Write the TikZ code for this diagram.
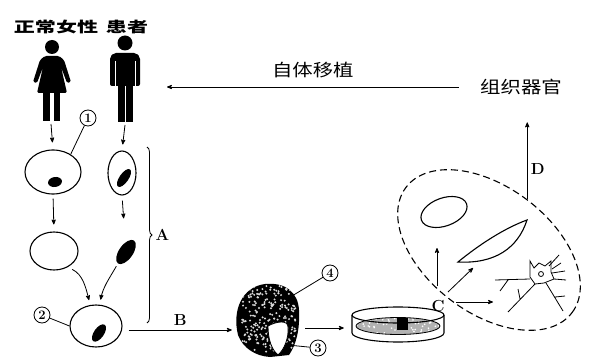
\documentclass[tikz,border=0pt]{standalone}
\usepackage{fontspec}
\newfontfamily\cjkwide[FakeStretch=1.45]{Noto Sans CJK SC}
\newfontfamily\cjk[FakeStretch=1.2]{Noto Sans CJK SC}
\usetikzlibrary{shapes,arrows,decorations.pathreplacing,positioning}

\begin{document}
\begin{tikzpicture}[x=1pt,y=-1pt,>=stealth']
          \useasboundingbox (0,0) rectangle (591,358);
          %% styles
          \tikzstyle{cell}=[draw,ellipse,line width=1.1pt,inner sep=0pt]
          \tikzstyle{nucleus}=[fill=black,ellipse,inner sep=0pt]
          \tikzstyle{num}=[draw,circle,thick,inner sep=0pt,minimum size=16pt,font=\fontsize{13}{13}\selectfont\bfseries]
          \tikzstyle{lab}=[font=\fontsize{16}{16}\selectfont\bfseries]
          \tikzstyle{arr}=[->,thick]

          % donneurs
          \node[font=\cjkwide\bfseries\fontsize{14.5}{14.5}\selectfont] (lblwoman) at (56,27) {正常女性};
          \node[font=\cjkwide\bfseries\fontsize{14.5}{14.5}\selectfont] (lblpatient) at (127,27) {患者};
          \fill (52,47) circle (7pt);
          \fill[rounded corners=1.5pt] (45,56) -- (59,56) -- (64,60) -- (71,82) -- (67,83) -- (61,67)
          -- (67,93) -- (37,93) -- (43,67) -- (37,83) -- (33,82) -- (40,60) -- cycle;
          \fill (43,92) rectangle (49.5,121);
          \fill (53.5,92) rectangle (60,121);
          \fill (125,43) circle (7.5pt);
          \fill[rounded corners=2pt] (110,86) -- (110,57) -- (114,53) -- (136,53) -- (140,57) -- (140,86) -- cycle;
          \draw[white,line width=1pt] (115,61) -- (115,87) (135,61) -- (135,87);
          \fill (117.5,85) rectangle (124.5,122);
          \fill (125.5,85) rectangle (132.5,122);
          \coordinate (womanfeet) at (51,124);
          \coordinate (manfeet) at (125,125);

          % cellules
          \node[cell,minimum width=56pt,minimum height=44pt] (egg) at (53,172) {};
          \node[nucleus,minimum width=14pt,minimum height=10pt,rotate=10] (eggnuc) at (55,182) {};
          \node[cell,minimum width=28pt,minimum height=44pt] (somatic) at (122,173) {};
          \node[nucleus,minimum width=9pt,minimum height=21pt,rotate=-35] (somnuc) at (124,178) {};
          \node[cell,minimum width=48pt,minimum height=38pt] (enuc) at (54,251) {};
          \node[nucleus,minimum width=14pt,minimum height=28pt,rotate=-35] (freenuc) at (126,252) {};
          \node[cell,minimum width=52pt,minimum height=42pt] (recon) at (96,326) {};
          \node[nucleus,minimum width=10pt,minimum height=20pt,rotate=-35] (reconnuc) at (99,333) {};

          \node[num] (n1) at (88,118) {1};
          \node[num] (n2) at (42,315) {2};
          \draw[thick] (n1) -- (egg.45);
          \draw[thick] (n2) -- (recon.west);

          \draw[arr,shorten >=7pt] (womanfeet) -- (egg.north);
          \draw[arr,shorten >=6pt] (manfeet) -- (somatic.north);
          \draw[arr,shorten <=4pt,shorten >=7pt] (egg.south) -- (enuc.north);
          \draw[arr,shorten <=5pt,shorten >=24pt] (somatic.south) -- (freenuc);
          \draw[arr,shorten <=5pt,shorten >=5pt] (enuc.-50) to[out=-25,in=105] (recon.105);
          \draw[arr,shorten <=3pt,shorten >=5pt] (freenuc.south) to[out=-120,in=80] (recon.80);

          \coordinate (bracetop) at (147,147);
          \coordinate (bracebot) at (147,323);
          \draw[thick,decorate,decoration={brace,amplitude=5pt}] (bracetop) -- node[lab,right=5pt] (labA) {A} (bracebot);

          % blastocyste
          \node[ellipse,minimum width=64pt,minimum height=72pt,inner sep=0pt] (blast) at (268,320) {};
          \begin{scope}
            \clip (238,335) .. controls (232,310) and (242,287) .. (265,284) .. controls (285,282) and (298,292) .. (299,310)
            .. controls (300,330) and (296,345) .. (289,355) -- (270,357) .. controls (255,356) and (243,348) .. cycle;
            \fill[black] (230,280) rectangle (305,360);
            \pgfmathsetseed{11}
            \foreach \i in {1,...,230}{
              \fill[white!70!gray] (269+rand*27,319+rand*33) circle (1.1pt);
            }
          \end{scope}
          \filldraw[fill=white,draw=black,thick] (268,326) .. controls (277,321) and (288,320) .. (288,327)
          .. controls (289,338) and (284,350) .. (278,355) .. controls (272,350) and (268,340) .. cycle;
          \coordinate (cavity) at (288,345);
          \node[num] (n4) at (330,273) {4};
          \node[num] (n3) at (318,348) {3};
          \draw[thick] (n4) -- (blast.45);
          \draw[thick] (n3) -- (cavity);

          \draw[arr] ([shift={(6,4)}]recon.east) -- node[lab,above=1pt] (labB) {B} ([shift={(-4,10)}]blast.west);

          % boite de culture
          \node[ellipse,minimum width=92pt,minimum height=34pt,inner sep=0pt] (dish) at (398,324) {};
          \draw[arr] ([shift={(5,8)}]blast.east) -- ([shift={(-8,4)}]dish.west);
          \begin{scope}
            \clip (398,326) ellipse [x radius=42pt,y radius=8.5pt];
            \fill[gray!60] (350,310) rectangle (446,340);
            \pgfmathsetseed{5}
            \foreach \i in {1,...,70}{
              \fill[white] (398+rand*42,326+rand*9) circle (0.9pt);
            }
          \end{scope}
          \fill[black] (397,318) rectangle (408,330);
          \draw[line width=1.1pt] (398,315) ellipse [x radius=46pt,y radius=8pt];
          \draw[line width=1.1pt] (352,315) -- (352,333) arc[start angle=180,end angle=360,x radius=46pt,y radius=9pt] -- (444,315);
          \draw[thick] (398,326) ellipse [x radius=42pt,y radius=8.5pt];

          % differenciation
          \node[draw,dashed,dash pattern=on 7pt off 4pt,line width=1.1pt,ellipse,rotate=-37,minimum width=208pt,minimum height=126pt,inner sep=0pt] (organs) at (489,250) {};
          \draw[line width=1.1pt,rotate around={20:(444,212)}] (444,212) ellipse [x radius=24pt,y radius=14pt];
          \draw[line width=1.1pt] (458,262) .. controls (480,244) and (505,228) .. (527,220) .. controls (518,248) and (495,264) .. cycle;
          \draw[thick] (530,261) -- (534,268) -- (539,263) -- (545,266) -- (551,261) -- (551,272) -- (554,279)
          -- (544,283) -- (535,284) -- (530,277) -- cycle;
          \draw[thick] (541,274) circle (2.5pt);
          \draw[thick] (530,279) -- (495,280) (508,280) -- (500,291)
          (535,284) -- (508,312) (520,299) -- (518,289)
          (546,283) -- (563,311) (555,297) -- (565,296)
          (554,279) -- (566,280)
          (549,266) -- (559,255) (552,269) -- (561,263) (552,273) -- (565,271);

          \coordinate (cup0) at (437,286);    \coordinate (cup1) at (437,248);
          \coordinate (cdiag0) at (448,292);  \coordinate (cdiag1) at (473,268);
          \coordinate (cright0) at (456,302); \coordinate (cright1) at (493,302);
          \foreach \from/\to in {cup0/cup1,cdiag0/cdiag1,cright0/cright1}{
            \draw[arr] (\from) -- (\to);
          }
          \node[lab] (labC) at (438,306) {C};

          % retour
          \node[font=\cjk\fontsize{17}{17}\selectfont] (tissue) at (521,87) {组织器官};
          \draw[arr,shorten >=24pt] (organs.north) -- (organs.north |- tissue.south) node[lab,pos=0.3,right] (labD) {D};
          \coordinate (graft) at (167,87);
          \draw[arr] ([xshift=-18pt]tissue.west) -- node[above=5pt,font=\cjk\fontsize{17}{17}\selectfont] (lblgraft) {自体移植} (graft);
        \end{tikzpicture}
\end{document}
